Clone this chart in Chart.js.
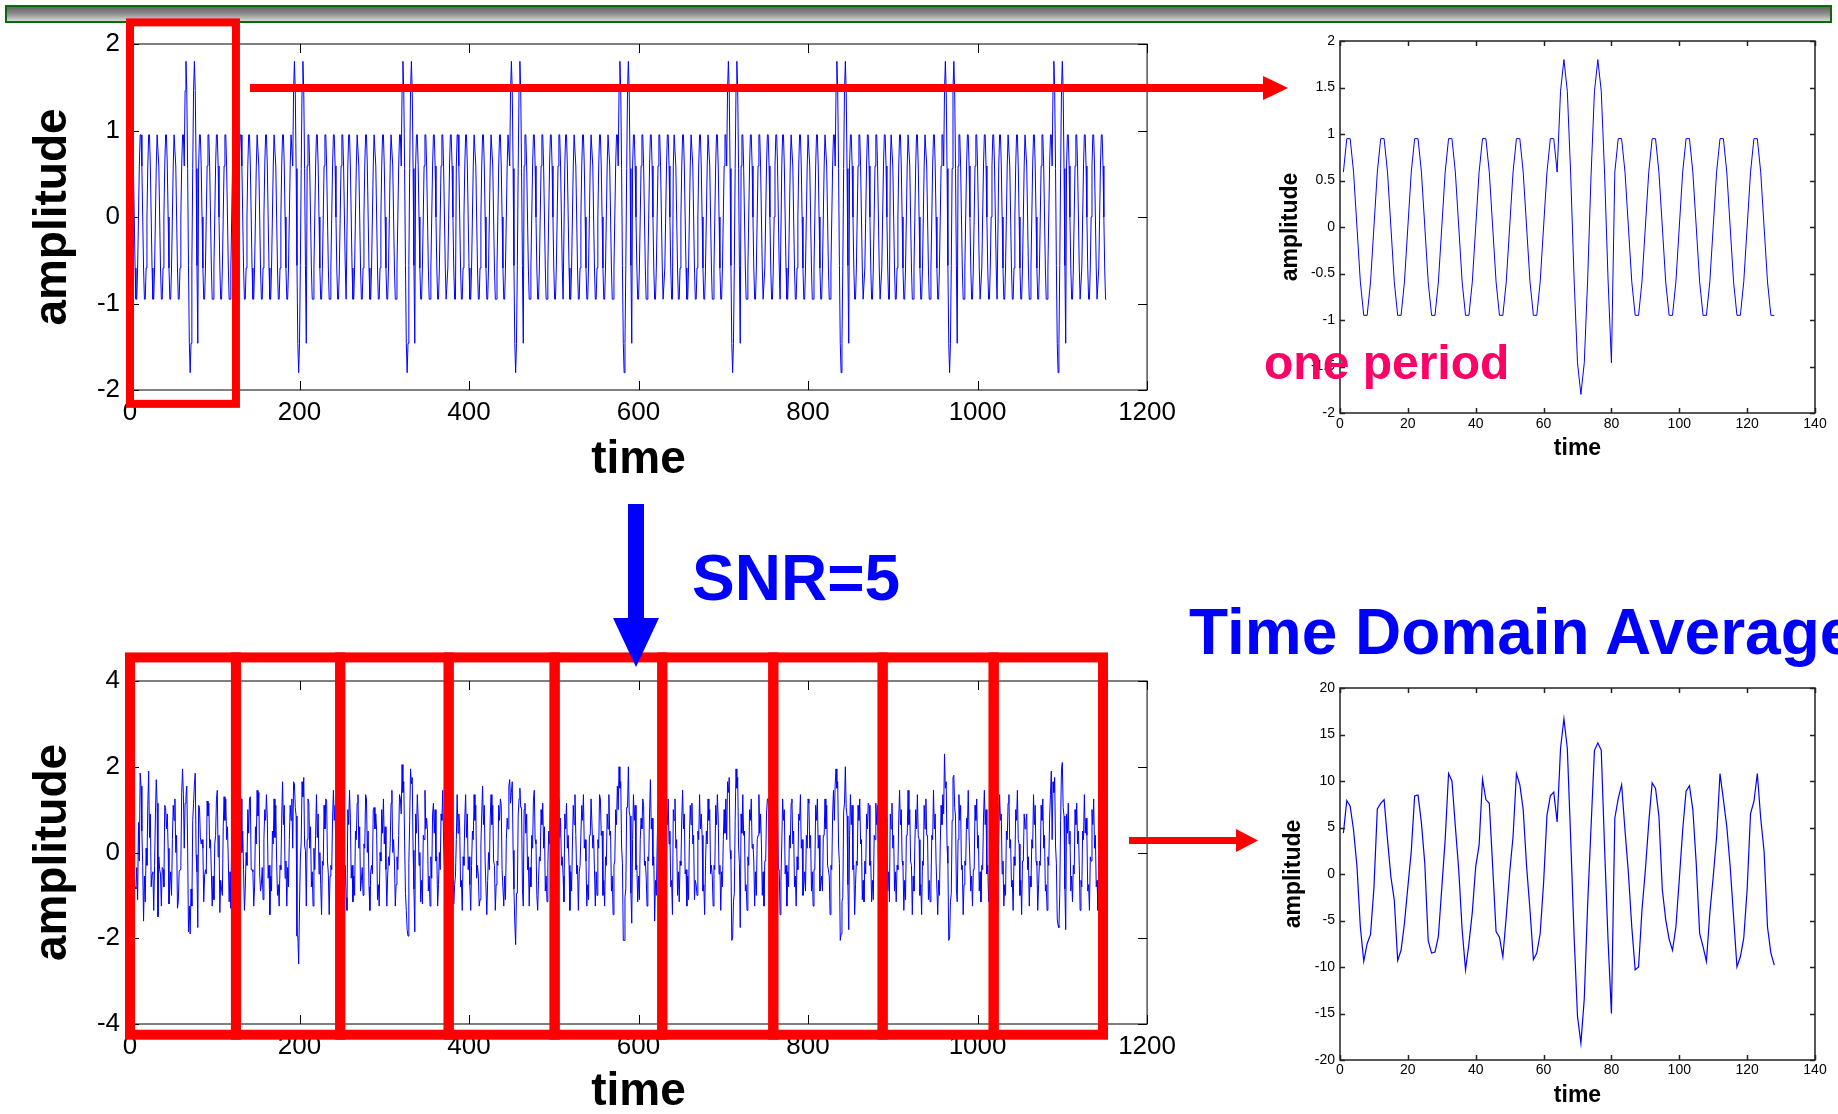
<!DOCTYPE html>
<html>
<head>
<meta charset="utf-8">
<script src="https://cdn.jsdelivr.net/npm/chart.js@4.4.1/dist/chart.umd.min.js"></script>
<style>
  html, body { margin: 0; padding: 0; background: #fff; }
  body { width: 1838px; height: 1114px; position: relative; overflow: hidden; font-family: "Liberation Sans", Arial, sans-serif; }
  canvas { position: absolute; }
  .banner { position: absolute; left: 5px; top: 5px; width: 1823px; height: 14px; border: 2px solid #0b6b0b;
            background: linear-gradient(to bottom, #666 0%, #8a8a8a 45%, #d6d6d6 100%); }
  .label { position: absolute; font-weight: bold; white-space: nowrap; line-height: 1; }
  svg { position: absolute; left: 0; top: 0; }
</style>
</head>
<body>
<div class="banner"></div>
<canvas id="cA" width="1186" height="490" style="left:0;top:0"></canvas>
<canvas id="cB" width="1186" height="517" style="left:0;top:600px"></canvas>
<canvas id="cC" width="580" height="470" style="left:1260px;top:0"></canvas>
<canvas id="cD" width="580" height="474" style="left:1260px;top:640px"></canvas>

<svg width="1838" height="1114">
  <rect x="250" y="84" width="1015" height="8" fill="#ff0000"/>
  <polygon points="1263,76 1288,88 1263,100" fill="#ff0000"/>
  <rect x="1129" y="837" width="110" height="7" fill="#ff0000"/>
  <polygon points="1236,829 1258,840.5 1236,852" fill="#ff0000"/>
  <rect x="628" y="504" width="16" height="118" fill="#0000ff"/>
  <polygon points="613,618 659,618 636,667" fill="#0000ff"/>
</svg>

<div class="label" style="left:692px;top:546px;font-size:64px;color:#0000ff">SNR=5</div>
<div class="label" style="left:1189px;top:600px;font-size:64px;color:#0000ff">Time Domain Average</div>
<div class="label" style="left:1264px;top:339px;font-size:48px;color:#ff0066">one period</div>

<script>
// one period of the clean signal (samples 1..128)
const onePeriod = [
  0.59, 0.95, 0.95, 0.59, 0, -0.59, -0.95, -0.95, -0.59, 0,
  0.59, 0.95, 0.95, 0.59, 0, -0.59, -0.95, -0.95, -0.59, 0,
  0.59, 0.95, 0.95, 0.59, 0, -0.59, -0.95, -0.95, -0.59, 0,
  0.59, 0.95, 0.95, 0.59, 0, -0.59, -0.95, -0.95, -0.59, 0,
  0.59, 0.95, 0.95, 0.59, 0, -0.59, -0.95, -0.95, -0.59, 0,
  0.59, 0.95, 0.95, 0.59, 0, -0.59, -0.95, -0.95, -0.59, 0,
  0.59, 0.95, 0.95, 0.59,
  1.46, 1.8, 1.46, 0.56, -0.56, -1.46, -1.8, -1.46, -0.56, 0.56, 1.46, 1.8, 1.46, 0.56, -0.56, -1.46,
  0.59, 0.95, 0.95, 0.59, 0, -0.59, -0.95, -0.95, -0.59, 0,
  0.59, 0.95, 0.95, 0.59, 0, -0.59, -0.95, -0.95, -0.59, 0,
  0.59, 0.95, 0.95, 0.59, 0, -0.59, -0.95, -0.95, -0.59, 0,
  0.59, 0.95, 0.95, 0.59, 0, -0.59, -0.95, -0.95, -0.59, 0,
  0.59, 0.95, 0.95, 0.59, 0, -0.59, -0.95, -0.95
];
const periodCount = 9;

// noisy signal, 9 periods of 128 samples
const noisySignal = [
  // period 1
  0.8, 0.45, 0.65, 0.7, -0.9, -0.8, -0.85, -0.35, -1.1, 0.7, -0.2, 1.85, 1.55, 0.5, -0.3, -1.6,
  -0.55, -1.15, 0.1, -0.3, 1.1, 1.9, 0.35, 0.9, -0.8, -0.5, -0.45, -1.35, -0.3, 0.9, 1.7, 1.15,
  -1.5, -0.1, -0.4, -0.5, -1.25, -0.35, -0.4, -0.8, 1.1, 1.05, 0.55, 0.9, 0.1, -1.2, -0.75, -0.45,
  -1.0, 0.3, 1.1, 0.75, 1.25, 0.0, 0.4, -1.3, -1.15, -0.45, -0.4, -0.3, 1.4, 1.95, 1.35, 0.1,
  1.15, 1.3, 1.55, 0.15, -1.85, -1.25, -1.9, -0.85, -1.25, 0.75, 1.15, 1.6, 1.85, -0.05, -0.45, -1.75,
  1.1, 1.05, 0.35, 0.2, 0.3, 0.1, -1.15, -0.55, -0.4, -0.5, 1.2, 0.85, 1.15, 0.1, 0.3, -0.5,
  -1.25, -0.55, -1.1, 0.2, 0.4, 1.25, 1.45, -0.1, 0.4, -1.4, -0.65, -0.85, -1.0, 0.6, 1.3, 0.75,
  1.25, 0.3, 0.6, -0.2, -1.15, -0.45, -1.3, 0.3, 0.7, 0.55, 1.15, 0.0, 0.5, -0.4, -1.25, -0.85,
  // period 2
  0.4, 1.35, 1.25, 0.0, 0.5, -0.4, -1.35, -0.85, 0.0, -0.3, 1.0, 0.45, 1.25, 1.3, -0.4, -0.4,
  -0.45, -1.25, -0.8, 0.6, 0.2, 1.45, 0.85, 1.4, -0.5, -0.9, -0.75, -0.35, -1.1, 0.3, 1.0, 0.75,
  1.35, 0.8, -0.6, -0.3, -1.45, -0.55, -0.9, 0.5, 0.2, 1.25, 0.35, 1.1, -0.2, -1.0, -0.75, -1.25,
  -0.3, -0.4, 0.8, 1.65, 0.65, 1.1, -0.6, -0.2, -1.25, -0.35, -0.8, 0.3, 1.1, 0.75, 1.25, 0.1,
  1.65, 1.6, 1.05, 0.85, -1.95, -1.95, -2.6, -1.25, -0.15, 0.25, 1.65, 1.3, 1.75, 0.15, 0.05, -1.25,
  0.3, 1.25, 1.15, 0.1, 0.6, -0.8, -0.45, -1.25, 0.1, -0.4, 0.4, 1.35, 0.35, 0.9, -0.5, 0.0,
  -0.75, -1.45, -0.2, -0.3, 1.1, 0.55, 1.25, 1.2, -0.2, -0.5, -1.45, -0.55, -0.3, -0.4, 0.8, 1.45,
  0.75, 1.1, -0.3, -1.2, -0.55, -1.05, -0.1, -0.3, 1.0, 0.55, 1.25, 0.8, -0.5, -0.3, -1.05, -1.35,
  // period 3
  1.0, 0.65, 1.45, 0.8, -0.6, -0.3, -1.15, -0.55, -1.0, 0.5, 0.3, 1.15, 1.35, 0.1, 0.6, -0.9,
  -0.65, -0.35, -1.0, 0.2, 0.1, 1.35, 1.25, 0.0, 0.5, -0.8, -1.35, -0.45, -0.3, -0.5, 1.0, 1.05,
  0.55, 0.9, 0.5, -1.1, -0.75, -1.25, 0.0, -0.2, 1.0, 0.45, 1.25, 0.2, 0.6, -0.4, -1.25, -0.55,
  -0.1, -0.3, 0.2, 1.15, 1.45, 0.0, 0.3, -0.2, -1.25, -0.75, -0.1, -0.4, 0.4, 1.35, 1.25, 0.9,
  2.05, 1.4, 1.65, 0.25, -0.95, -1.35, -1.8, -1.95, -0.25, 0.75, 1.95, 1.6, 1.75, 0.05, -0.85, -1.85,
  0.9, 0.45, 1.35, 0.8, -0.3, 0.0, -1.15, -0.65, -1.2, 0.4, 0.3, 1.45, 0.55, 0.8, 0.5, -0.9,
  -0.55, -1.25, -0.1, -0.6, 0.9, 1.15, 0.45, 1.0, -0.2, -0.1, -1.25, -0.75, 0.0, -0.4, 0.9, 0.75,
  1.45, 0.2, -0.3, -0.3, -1.15, -0.35, -1.1, 0.3, 0.2, 1.15, 1.45, 0.3, 0.4, -1.2, -0.75, -0.55,
  // period 4
  0.3, 1.35, 0.45, 0.9, 0.6, -0.8, -0.65, -1.35, -0.1, -0.3, 0.8, 1.35, 0.35, 0.9, -0.4, -0.1,
  -0.75, -1.35, -0.3, 0.5, 0.3, 1.35, 0.75, 1.1, -0.6, -0.3, -0.55, -1.25, -1.1, 0.2, 0.9, 1.55,
  0.65, 1.1, -0.2, -0.2, -1.45, -0.65, 0.0, -0.4, 0.8, 1.35, 0.65, 1.1, -0.2, -0.3, -1.35, -0.75,
  -0.2, -0.3, 1.1, 0.75, 1.25, 1.1, -0.4, -0.4, -1.25, -0.55, -1.1, 0.3, 0.8, 0.55, 1.55, 1.7,
  1.15, 1.4, 1.65, 0.05, -0.85, -1.65, -2.15, -0.95, -0.95, 0.85, 1.25, 1.5, 1.05, 1.05, -0.85, -1.25,
  1.0, 1.15, 0.45, 0.9, -0.4, -0.1, -1.25, -0.35, -0.8, 0.4, 0.1, 1.25, 1.45, 0.3, 0.2, -1.0,
  -1.35, -0.65, -0.1, -0.2, 1.0, 0.65, 1.15, 0.1, 0.6, -0.9, -0.55, -1.15, -0.3, 0.5, 0.2, 1.15,
  0.65, 1.0, -0.4, -0.1, -0.75, -1.45, -0.3, -0.2, 1.0, 1.25, 0.35, 0.8, -0.3, -0.1, -0.55, -1.15,
  // period 5
  0.9, 0.55, 1.15, 0.1, 0.4, -0.3, -1.35, -0.45, -0.9, 0.2, 1.1, 0.65, 1.35, 0.4, -0.5, -0.3,
  -1.35, -0.45, -0.3, -0.3, 1.1, 0.75, 1.35, 0.1, 0.3, -0.2, -1.25, -0.75, -1.1, 0.4, 0.4, 1.25,
  1.25, 0.1, 0.4, -0.4, -1.25, -0.45, -1.0, 0.3, 0.1, 1.35, 1.25, 0.4, 0.5, -1.0, -0.65, -1.25,
  -0.1, -0.3, 0.9, 0.55, 1.35, 0.4, 0.5, -0.9, -0.55, -1.45, -0.3, -0.2, 1.0, 0.65, 1.55, 1.0,
  2.0, 1.5, 1.65, 0.15, -0.25, -2.05, -2.05, -1.05, -0.85, 1.05, 1.05, 2.0, 0.95, 0.85, -0.95, -1.65,
  0.3, 1.35, 0.75, 1.1, -0.4, -0.3, -1.15, -0.55, -1.1, 0.3, 0.8, 0.55, 1.25, 1.1, -0.3, -0.2,
  -0.55, -1.25, -0.1, -0.2, 0.9, 1.7, 0.55, 0.8, -0.3, -0.1, -1.6, -0.65, -1.0, 0.2, 1.1, 0.65,
  0.75, 1.0, -0.3, -0.1, -1.35, -0.65, -1.1, 0.2, 1.0, 0.65, 1.25, 0.2, 0.5, -0.8, -0.65, -1.45,
  // period 6
  1.0, 0.75, 1.25, 0.1, 0.3, -1.0, -0.45, -1.15, -0.2, -0.3, 0.8, 1.45, 0.55, 0.9, -0.5, -0.4,
  -1.25, -0.55, -1.1, 0.3, 1.1, 0.65, 1.15, 0.2, 0.4, -1.1, -0.65, -0.75, -1.0, 0.5, 0.3, 1.35,
  0.55, 0.9, 0.4, -0.9, -0.75, -1.45, -0.3, 0.5, 0.2, 1.25, 0.75, 1.0, -0.5, -0.3, -0.55, -1.25,
  -0.3, -0.4, 1.1, 0.65, 1.35, 0.8, -0.5, -0.3, -1.35, -0.45, -0.8, 0.3, 1.0, 0.45, 1.25, 0.3,
  1.65, 1.4, 1.75, 0.05, -0.15, -2.05, -2.0, -1.15, -0.95, 0.75, 1.95, 1.5, 1.75, 0.15, -0.25, -1.75,
  0.9, 0.45, 1.35, 0.4, 0.5, -0.9, -0.75, -1.35, -0.1, -0.3, 1.0, 0.75, 1.25, 0.1, 0.2, -0.2,
  -1.25, -0.45, -1.0, 0.3, 0.4, 1.35, 0.45, 0.9, 0.2, -1.0, -0.45, -1.25, -0.2, -0.2, 0.9, 1.25,
  1.25, 0.2, 0.5, -0.9, -0.55, -1.15, -0.3, -0.5, 0.8, 1.35, 0.65, 1.1, -0.4, -0.4, -1.45, -0.65,
  // period 7
  0.2, 1.25, 0.75, 1.0, -0.5, -0.3, -1.25, -0.45, -0.8, 0.4, 0.1, 1.15, 1.25, 0.2, 0.5, -0.8,
  -0.55, -1.25, -0.1, -0.4, 0.9, 0.75, 1.35, 0.1, 0.3, -1.0, -0.75, -0.45, -0.9, 0.4, 0.1, 1.25,
  1.15, 0.1, 0.4, -0.9, -0.45, -1.25, -0.4, -0.4, 1.1, 0.75, 1.25, 0.1, 0.4, -0.9, -0.75, -0.55,
  -0.9, 0.4, 0.4, 1.25, 0.55, 1.1, -0.3, -0.4, -0.55, -1.45, -0.3, -0.4, 0.9, 1.45, 0.75, 1.6,
  1.95, 1.5, 1.65, 0.15, -0.25, -2.05, -1.9, -1.15, -1.05, 0.95, 1.15, 2.0, 1.05, 0.85, -0.75, -1.8,
  0.4, 1.35, 0.65, 1.1, -0.4, -0.3, -1.45, -0.75, -0.2, -0.3, 1.1, 0.75, 1.25, 0.2, 0.3, -1.1,
  -0.65, -1.15, -0.2, -0.5, 0.9, 0.55, 1.15, 1.1, -0.3, -0.2, -1.15, -0.65, -1.1, 0.4, 0.3, 1.15,
  0.65, 1.1, -0.2, -0.2, -1.45, -0.65, -1.0, 0.2, 0.3, 1.45, 0.55, 0.8, 0.4, -0.9, -0.45, -1.15,
  // period 8
  0.9, 0.55, 1.15, 0.1, 0.4, -0.9, -0.45, -1.15, -0.3, -0.4, 0.8, 1.45, 0.65, 1.0, -0.2, -0.3,
  -1.35, -0.65, -1.1, 0.4, 0.4, 1.45, 0.65, 1.0, -0.2, -0.3, -1.45, -0.55, -0.9, 0.2, 1.0, 0.55,
  1.35, 0.4, 0.3, -1.0, -0.75, -1.45, -0.2, -0.3, 1.1, 0.55, 1.25, 0.4, 0.4, -1.1, -0.65, -1.15,
  -0.8, 0.4, 0.3, 1.45, 0.55, 0.9, -0.2, -0.2, -1.45, -0.65, -1.0, 0.2, 1.1, 0.65, 1.35, 0.9,
  2.3, 1.5, 1.65, 0.15, -0.25, -2.05, -2.0, -1.15, -0.95, 0.75, 1.75, 1.8, 1.05, 0.85, -0.85, -1.15,
  0.3, 1.35, 0.75, 1.1, -0.4, -0.3, -1.45, -0.75, -0.2, -0.3, 0.8, 0.55, 1.45, 0.4, 0.4, -0.9,
  -0.55, -1.25, -0.4, -0.4, 1.1, 0.75, 1.25, 0.1, 0.4, -0.9, -0.45, -1.15, -0.3, -0.4, 0.8, 1.45,
  0.65, 1.0, -0.5, -0.3, -1.15, -0.55, -0.9, 0.5, 0.2, 1.15, 0.65, 1.0, -0.2, -0.1, -1.35, -0.65,
  // period 9
  0.3, 1.35, 0.75, 0.9, -0.5, -0.2, -1.25, -0.75, -1.0, 0.5, 0.3, 1.15, 1.35, 0.1, 0.3, -0.8,
  -0.65, -1.35, -0.1, -0.3, 1.0, 0.75, 1.45, 0.3, 0.2, -1.0, -0.65, -1.45, -0.2, -0.2, 0.9, 0.55,
  0.75, 0.9, -0.4, -0.1, -1.25, -0.55, -0.8, 0.3, 0.1, 1.35, 0.65, 1.1, -0.2, -0.3, -1.35, -0.75,
  -0.2, -0.3, 1.1, 0.75, 1.25, 0.1, 0.4, -0.9, -0.75, -1.35, -0.1, -0.3, 0.8, 1.35, 1.9, 0.3,
  1.65, 1.4, 1.75, 0.15, -0.25, -1.55, -1.7, -1.75, -0.95, 0.75, 1.95, 2.1, 1.05, 0.85, -0.85, -1.8,
  0.9, 0.45, 1.15, 0.2, 0.5, -0.9, -0.55, -1.15, -0.3, -0.5, 1.0, 0.65, 1.15, 0.2, 0.5, -0.3,
  -1.35, -0.65, -0.8, 0.5, 0.3, 1.35, 0.45, 0.8, 0.4, -0.9, -0.75, -1.35, -0.1, -0.2, 1.0, 0.65,
  1.25, 0.1, 0.4, -0.8, -0.65, -1.35, -0.4, -0.3, 1.0, 0.45, 1.25, 0.4, 0.4, -0.9, -0.75, -1.35
];

// time domain average of the 9 noisy periods
const averaged = [
  4.4, 7.9, 7.3, 4.7, 0.8, -5.7, -9.4, -7.5, -6.5, -1.5,
  7.0, 7.6, 8.0, 3.7, -0.3, -2.8, -9.3, -8.2, -5.3, -1.4,
  2.4, 8.4, 8.5, 5.5, 1.1, -7.2, -8.5, -8.4, -6.7, -1.5,
  3.7, 10.8, 10.0, 5.1, 0.4, -6.0, -10.3, -7.5, -4.1, 0.8,
  3.1, 10.2, 8.0, 7.6, 0.8, -6.2, -6.8, -8.9, -4.6, 0.1,
  4.0, 10.8, 9.6, 6.9, 0.8, -3.9, -9.2, -8.5, -6.4, -1.0,
  6.3, 8.4, 8.8, 5.6, 13.5, 16.7, 13.5, 3.7, -6.7, -15.3,
  -18.2, -13.4, -3.2, 5.1, 13.3, 14.1, 13.3, 2.6, -7.1, -15.0,
  6.0, 8.1, 9.6, 4.7, 0.1, -5.7, -10.3, -10.0, -3.9, 0.4,
  5.5, 9.8, 9.2, 6.2, -1.7, -4.9, -7.0, -8.2, -5.7, -0.6,
  4.7, 8.9, 9.5, 6.9, 1.1, -6.4, -7.8, -9.4, -4.2, -0.3,
  4.0, 10.8, 8.0, 5.1, 0.8, -4.6, -10.0, -8.9, -6.9, -1.7,
  6.5, 7.8, 10.8, 6.0, 2.4, -5.7, -8.5, -9.8
];

// tick values
const longXTicks = [0, 200, 400, 600, 800, 1000, 1200];
const cleanYTicks = [-2, -1, 0, 1, 2];
const noisyYTicks = [-4, -2, 0, 2, 4];
const shortXTicks = [0, 20, 40, 60, 80, 100, 120, 140];
const periodYTicks = [-2, -1.5, -1, -0.5, 0, 0.5, 1, 1.5, 2];
const averageYTicks = [-20, -15, -10, -5, 0, 5, 10, 15, 20];

// red frames marking the periods, as drawn on the slide (time units)
const firstPeriodFrame = [0, 125];
const periodFrames = [0, 125, 248, 376, 501, 628, 759, 888, 1019, 1148];

const cleanSignal = Array.from({ length: periodCount }, () => onePeriod).flat();

const FONT = '"Liberation Sans", Arial, Helvetica, sans-serif';

// box round the plot with inward ticks on all four sides
const matlabAxes = {
  id: 'matlabAxes',
  afterDatasetsDraw(chart, args, opts) {
    const { ctx, chartArea: a, scales: { x, y } } = chart;
    const t = opts.tick;
    ctx.save();
    ctx.strokeStyle = opts.color;
    ctx.lineWidth = opts.lineWidth;
    ctx.strokeRect(a.left, a.top, a.right - a.left, a.bottom - a.top);
    ctx.beginPath();
    x.ticks.forEach(tk => {
      const px = Math.round(x.getPixelForValue(tk.value)) + 0.5;
      ctx.moveTo(px, a.bottom); ctx.lineTo(px, a.bottom - t);
      ctx.moveTo(px, a.top); ctx.lineTo(px, a.top + t);
    });
    y.ticks.forEach(tk => {
      const py = Math.round(y.getPixelForValue(tk.value)) + 0.5;
      ctx.moveTo(a.left, py); ctx.lineTo(a.left + t, py);
      ctx.moveTo(a.right, py); ctx.lineTo(a.right - t, py);
    });
    ctx.stroke();
    ctx.restore();
  }
};

// red rectangles marking the periods
const periodBoxes = {
  id: 'periodBoxes',
  afterDraw(chart, args, opts) {
    if (!opts.edges) return;
    const { ctx, scales: { x, y } } = chart;
    const top = y.getPixelForValue(opts.yTop);
    const bot = y.getPixelForValue(opts.yBottom);
    ctx.save();
    ctx.strokeStyle = '#ff0000';
    ctx.lineWidth = opts.lineWidth;
    for (let i = 0; i < opts.edges.length - 1; i++) {
      const l = x.getPixelForValue(opts.edges[i]);
      const r = x.getPixelForValue(opts.edges[i + 1]);
      ctx.strokeRect(l, top, r - l, bot - top);
    }
    ctx.restore();
  }
};

function makeChart(id, o) {
  return new Chart(document.getElementById(id), {
    type: 'line',
    data: {
      datasets: [{
        data: o.values.map((v, i) => ({ x: i + 1, y: v })),
        borderColor: '#0000ff',
        borderWidth: o.lineWidth,
        pointRadius: 0,
        tension: 0,
        fill: false
      }]
    },
    plugins: [matlabAxes, periodBoxes],
    options: {
      responsive: false,
      animation: false,
      events: [],
      parsing: false,
      layout: { padding: o.padding },
      plugins: {
        legend: { display: false },
        tooltip: { enabled: false },
        matlabAxes: { tick: o.tickLen, color: o.boxColor, lineWidth: o.boxWidth },
        periodBoxes: o.boxes || { edges: null }
      },
      scales: {
        x: {
          type: 'linear',
          min: o.xTicks[0],
          max: o.xTicks[o.xTicks.length - 1],
          grid: { display: false, drawTicks: false },
          border: { display: false },
          afterBuildTicks: s => { s.ticks = o.xTicks.map(v => ({ value: v })); },
          afterFit: s => { s.height = o.xAxisHeight; },
          ticks: {
            autoSkip: false, maxRotation: 0, padding: o.xTickPad, color: '#000',
            font: { family: FONT, size: o.tickSize, lineHeight: 1 },
            callback: v => String(v)
          },
          title: {
            display: true, text: 'time', color: '#000',
            font: { family: FONT, size: o.titleSize, weight: 'bold', lineHeight: 1 },
            padding: { top: 0, bottom: o.xTitlePad }
          }
        },
        y: {
          type: 'linear',
          min: o.yTicks[0],
          max: o.yTicks[o.yTicks.length - 1],
          grid: { display: false, drawTicks: false },
          border: { display: false },
          afterBuildTicks: s => { s.ticks = o.yTicks.map(v => ({ value: v })); },
          afterFit: s => { s.width = o.yAxisWidth; },
          ticks: {
            autoSkip: false, padding: o.yTickPad, color: '#000',
            font: { family: FONT, size: o.tickSize, lineHeight: 1 },
            callback: v => String(Math.round(v * 100) / 100)
          },
          title: {
            display: true, text: 'amplitude', color: '#000',
            font: { family: FONT, size: o.titleSize, weight: 'bold', lineHeight: 1 },
            padding: { top: o.yTitlePad, bottom: 0 }
          }
        }
      }
    }
  });
}

// top left: clean signal
makeChart('cA', {
  values: cleanSignal, xTicks: longXTicks, yTicks: cleanYTicks, lineWidth: 1,
  padding: { left: 20, top: 44, right: 33, bottom: 5 },
  yAxisWidth: 110, xAxisHeight: 95, tickSize: 26, titleSize: 46,
  xTickPad: 10, yTickPad: 10, xTitlePad: 2, yTitlePad: 10,
  tickLen: 9, boxColor: '#000', boxWidth: 1,
  boxes: { edges: firstPeriodFrame, yTop: 2.25, yBottom: -2.16, lineWidth: 8 }
});

// bottom left: noisy signal
makeChart('cB', {
  values: noisySignal, xTicks: longXTicks, yTicks: noisyYTicks, lineWidth: 1,
  padding: { left: 20, top: 81, right: 33, bottom: 0 },
  yAxisWidth: 110, xAxisHeight: 93, tickSize: 26, titleSize: 46,
  xTickPad: 10, yTickPad: 10, xTitlePad: 1.5, yTitlePad: 10,
  tickLen: 9, boxColor: '#000', boxWidth: 1,
  boxes: { edges: periodFrames, yTop: 4.55, yBottom: -4.25, lineWidth: 10 }
});

// top right: one period
makeChart('cC', {
  values: onePeriod, xTicks: shortXTicks, yTicks: periodYTicks, lineWidth: 1,
  padding: { left: 10, top: 41, right: 25, bottom: 8 },
  yAxisWidth: 70, xAxisHeight: 49, tickSize: 14, titleSize: 23,
  xTickPad: 4, yTickPad: 5, xTitlePad: 2, yTitlePad: 9.5,
  tickLen: 5, boxColor: '#222', boxWidth: 1.5
});

// bottom right: time domain average
makeChart('cD', {
  values: averaged, xTicks: shortXTicks, yTicks: averageYTicks, lineWidth: 1.2,
  padding: { left: 10, top: 48, right: 25, bottom: 5 },
  yAxisWidth: 70, xAxisHeight: 49, tickSize: 14, titleSize: 23,
  xTickPad: 3, yTickPad: 5, xTitlePad: 2, yTitlePad: 12.5,
  tickLen: 5, boxColor: '#222', boxWidth: 1.5
});
</script>
</body>
</html>
